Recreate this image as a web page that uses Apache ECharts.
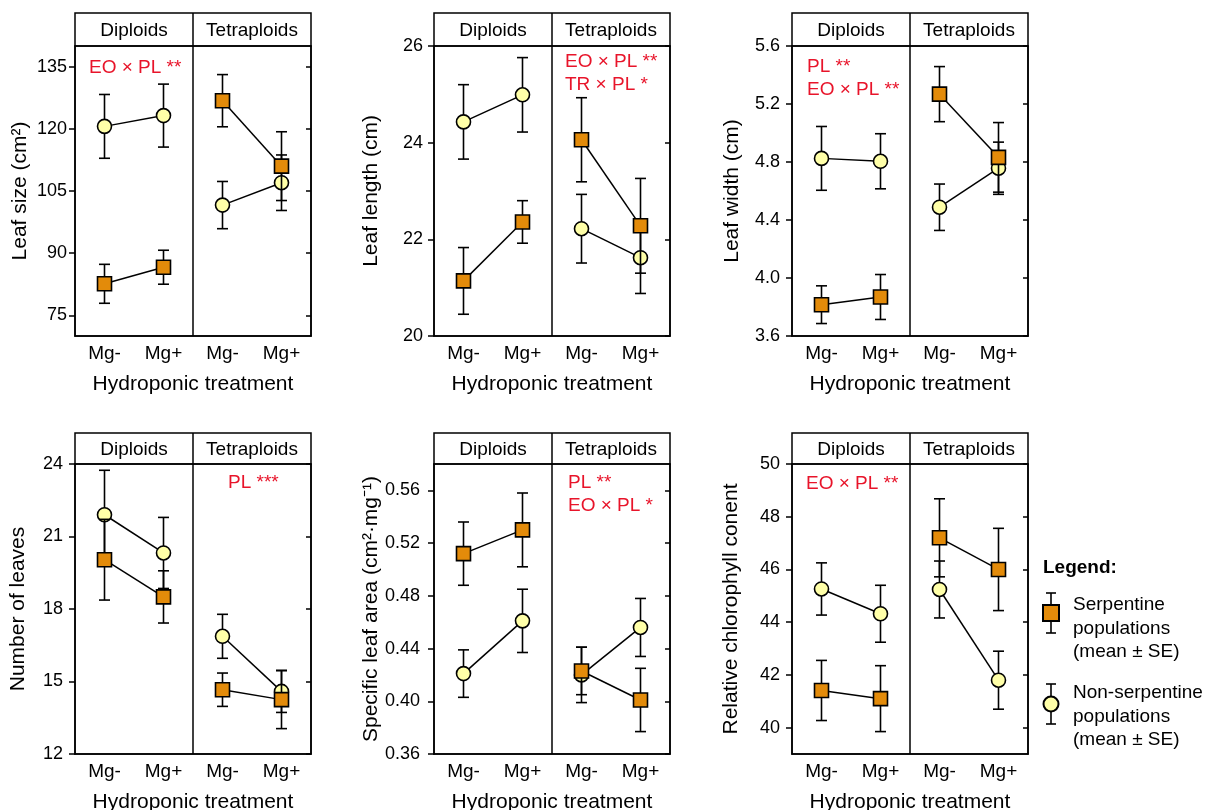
<!DOCTYPE html>
<html>
<head>
<meta charset="utf-8">
<title>Leaf traits by ploidy and Mg treatment</title>
<script src="https://cdn.jsdelivr.net/npm/echarts@6/dist/echarts.min.js"></script>
<style>
  html, body { margin: 0; padding: 0; background: #ffffff; }
  #main { width: 1206px; height: 810px; }
</style>
</head>
<body>
<div id="main"></div>
<script>
// x categories: diploids Mg-/Mg+, then tetraploids Mg-/Mg+
const ploidy = ["Diploids", "Tetraploids"];
const treatments = ["Mg-", "Mg+"];
const categories = ["Diploids Mg-", "Diploids Mg+", "Tetraploids Mg-", "Tetraploids Mg+"];

// Leaf size (cm2)
const leafSizeSerp = [82.6, 86.6, 126.8, 111.0];
const leafSizeSerpSE = [4.7, 4.1, 6.3, 8.3];
const leafSizeNon = [120.6, 123.2, 101.6, 107.0];
const leafSizeNonSE = [7.7, 7.6, 5.7, 6.7];
const leafSizeTicks = [75, 90, 105, 120, 135];

// Leaf length (cm)
const leafLenSerp = [21.14, 22.36, 24.06, 22.28];
const leafLenSerpSE = [0.69, 0.44, 0.87, 0.98];
const leafLenNon = [24.43, 24.99, 22.22, 21.62];
const leafLenNonSE = [0.77, 0.77, 0.71, 0.74];
const leafLenTicks = [20, 22, 24, 26];

// Leaf width (cm)
const leafWidSerp = [3.816, 3.869, 5.268, 4.832];
const leafWidSerpSE = [0.13, 0.155, 0.19, 0.24];
const leafWidNon = [4.825, 4.805, 4.488, 4.757];
const leafWidNonSE = [0.22, 0.19, 0.16, 0.18];
const leafWidTicks = [3.6, 4.0, 4.4, 4.8, 5.2, 5.6];

// Number of leaves
const leavesSerp = [20.04, 18.5, 14.66, 14.25];
const leavesSerpSE = [1.67, 1.08, 0.69, 1.2];
const leavesNon = [21.9, 20.32, 16.87, 14.59];
const leavesNonSE = [1.84, 1.47, 0.91, 0.87];
const leavesTicks = [12, 15, 18, 21, 24];

// Specific leaf area (cm2/mg)
const slaSerp = [0.512, 0.530, 0.423, 0.401];
const slaSerpSE = [0.024, 0.028, 0.018, 0.024];
const slaNon = [0.421, 0.461, 0.420, 0.456];
const slaNonSE = [0.018, 0.024, 0.021, 0.022];
const slaTicks = [0.36, 0.40, 0.44, 0.48, 0.52, 0.56];

// Relative chlorophyll content
const chlSerp = [41.41, 41.10, 47.20, 46.00];
const chlSerpSE = [1.14, 1.25, 1.48, 1.56];
const chlNon = [45.26, 44.32, 45.24, 41.80];
const chlNonSE = [0.99, 1.08, 1.08, 1.10];
const chlTicks = [40, 42, 44, 46, 48, 50];

// panels, left to right, top to bottom
const panels = [
  { title: "Leaf size (cm²)", serp: leafSizeSerp, serpSE: leafSizeSerpSE, non: leafSizeNon, nonSE: leafSizeNonSE,
    min: 70, max: 140, ticks: leafSizeTicks, dec: 0, notes: ["EO × PL **"] },
  { title: "Leaf length (cm)", serp: leafLenSerp, serpSE: leafLenSerpSE, non: leafLenNon, nonSE: leafLenNonSE,
    min: 20, max: 26, ticks: leafLenTicks, dec: 0, notes: ["EO × PL **", "TR × PL *"] },
  { title: "Leaf width (cm)", serp: leafWidSerp, serpSE: leafWidSerpSE, non: leafWidNon, nonSE: leafWidNonSE,
    min: 3.6, max: 5.6, ticks: leafWidTicks, dec: 1, notes: ["PL **", "EO × PL **"] },
  { title: "Number of leaves", serp: leavesSerp, serpSE: leavesSerpSE, non: leavesNon, nonSE: leavesNonSE,
    min: 12, max: 24, ticks: leavesTicks, dec: 0, notes: ["PL ***"] },
  { title: "Specific leaf area (cm²·mg⁻¹)", serp: slaSerp, serpSE: slaSerpSE, non: slaNon, nonSE: slaNonSE,
    min: 0.36, max: 0.58, ticks: slaTicks, dec: 2, notes: ["PL **", "EO × PL *"] },
  { title: "Relative chlorophyll conent", serp: chlSerp, serpSE: chlSerpSE, non: chlNon, nonSE: chlNonSE,
    min: 39, max: 50, ticks: chlTicks, dec: 0, notes: ["EO × PL **"] }
];

// layout (pixels)
const FONT = "'Liberation Sans', Arial, Helvetica, sans-serif";
const colLeft = [75, 434, 792];
const boxW = 236;
const headTop = [13, 433];
const plotTop = [46, 464];
const plotH = 290;
const nameGap = [44, 52, 49, 46, 52, 50];
const labelMargin = [8, 11, 12, 12, 14, 12];
// where the red notes start: [x, y of first line]
const notePos = [[89, 68], [565, 62], [807, 67], [228, 483], [568, 483], [806, 484]];

const SERP_COLOR = "#E38B0A";
const NON_COLOR = "#FFFFA8";
const RED = "#E8142A";

function errorBarItem(params, api) {
  const x = api.value(0);
  const m = api.value(1);
  const se = api.value(2);
  const hi = api.coord([x, m + se]);
  const lo = api.coord([x, m - se]);
  const cap = 5.5;
  const style = { stroke: "#000", lineWidth: 1.6 };
  return {
    type: "group",
    children: [
      { type: "line", shape: { x1: hi[0], y1: hi[1], x2: lo[0], y2: lo[1] }, style: style },
      { type: "line", shape: { x1: hi[0] - cap, y1: hi[1], x2: hi[0] + cap, y2: hi[1] }, style: style },
      { type: "line", shape: { x1: lo[0] - cap, y1: lo[1], x2: lo[0] + cap, y2: lo[1] }, style: style }
    ]
  };
}

const grids = [], xAxes = [], yAxes = [], series = [], graphics = [];

panels.forEach((p, i) => {
  const col = i % 3, row = Math.floor(i / 3);
  const left = colLeft[col];
  const top = plotTop[row];
  grids.push({ left: left, top: top, width: boxW, height: plotH, show: true,
    borderColor: "#000", borderWidth: 1.5, containLabel: false, outerBoundsMode: "none" });

  xAxes.push({
    type: "category", gridIndex: i, data: categories, boundaryGap: true,
    name: "Hydroponic treatment", nameLocation: "middle", nameGap: 38, nameMoveOverlap: false,
    nameTextStyle: { fontFamily: FONT, fontSize: 21, color: "#000" },
    axisLine: { lineStyle: { color: "#000", width: 1.5 } },
    axisTick: { alignWithLabel: true, length: 5, lineStyle: { color: "#000", width: 1.5 } },
    axisLabel: { margin: 8, fontFamily: FONT, fontSize: 19, color: "#000", interval: 0,
      formatter: v => v.split(" ")[1] },
    splitLine: { show: false }
  });

  const fmt = v => Number(v).toFixed(p.dec);
  yAxes.push({
    type: "value", gridIndex: i, min: p.min, max: p.max, position: "left",
    name: p.title, nameLocation: "middle", nameGap: nameGap[i], nameMoveOverlap: false,
    nameTextStyle: { fontFamily: FONT, fontSize: 21, color: "#000" },
    axisLine: { show: true, lineStyle: { color: "#000", width: 1.5 } },
    axisTick: { show: true, length: 6, customValues: p.ticks, lineStyle: { color: "#000", width: 1.5 } },
    axisLabel: { margin: labelMargin[i], fontFamily: FONT, fontSize: 18, color: "#000",
      customValues: p.ticks, formatter: fmt },
    splitLine: { show: false }
  });
  // right side: inward ticks only
  yAxes.push({
    type: "value", gridIndex: i, min: p.min, max: p.max, position: "right",
    axisLine: { show: true, lineStyle: { color: "#000", width: 1.5 } },
    axisTick: { show: true, inside: true, length: 5, customValues: p.ticks, lineStyle: { color: "#000", width: 1.5 } },
    axisLabel: { show: false },
    splitLine: { show: false }
  });
  const yLeft = i * 2;

  const groups = [
    { vals: p.non, se: p.nonSE, color: NON_COLOR, symbol: "circle", z: 2 },
    { vals: p.serp, se: p.serpSE, color: SERP_COLOR, symbol: "rect", z: 4 }
  ];
  groups.forEach(g => {
    series.push({
      type: "custom", xAxisIndex: i, yAxisIndex: yLeft, z: g.z, silent: true,
      renderItem: errorBarItem,
      encode: { x: 0, y: 1 },
      data: g.vals.map((v, k) => [k, v, g.se[k]])
    });
    // one line per ploidy level, not joined across
    [0, 1].forEach(pl => {
      series.push({
        type: "line", xAxisIndex: i, yAxisIndex: yLeft, z: g.z + 1,
        symbol: g.symbol, symbolSize: 14, showSymbol: true, showAllSymbol: true,
        connectNulls: false,
        lineStyle: { color: "#000", width: 1.5 },
        itemStyle: { color: g.color, borderColor: "#000", borderWidth: 1.6 },
        data: g.vals.map((v, k) => (Math.floor(k / 2) === pl ? v : null))
      });
    });
  });

  // header box with ploidy labels and the divider through the panel
  const hTop = headTop[row];
  graphics.push({
    type: "rect", shape: { x: left, y: hTop, width: boxW, height: top - hTop },
    style: { fill: "transparent", stroke: "#000", lineWidth: 1.5 }
  });
  graphics.push({
    type: "line", shape: { x1: left + boxW / 2, y1: hTop, x2: left + boxW / 2, y2: top + plotH },
    style: { stroke: "#000", lineWidth: 1.5 }
  });
  ploidy.forEach((name, k) => {
    graphics.push({
      type: "text", x: left + boxW * (k * 2 + 1) / 4, y: (hTop + top) / 2 + 1,
      style: { text: name, font: "19px " + FONT, fill: "#000", textAlign: "center", textVerticalAlign: "middle" }
    });
  });

  // significance notes
  p.notes.forEach((t, k) => {
    graphics.push({
      type: "text", x: notePos[i][0], y: notePos[i][1] + k * 23,
      style: { text: t, font: "19px " + FONT, fill: RED, textAlign: "left", textVerticalAlign: "middle" }
    });
  });
});

// legend
function legendMark(cx, cy, symbol, color) {
  const st = { stroke: "#000", lineWidth: 1.6 };
  const h = 20, cap = 5;
  const out = [
    { type: "line", shape: { x1: cx, y1: cy - h, x2: cx, y2: cy + h }, style: st },
    { type: "line", shape: { x1: cx - cap, y1: cy - h, x2: cx + cap, y2: cy - h }, style: st },
    { type: "line", shape: { x1: cx - cap, y1: cy + h, x2: cx + cap, y2: cy + h }, style: st }
  ];
  if (symbol === "rect") {
    out.push({ type: "rect", shape: { x: cx - 8, y: cy - 8, width: 16, height: 16 },
      style: { fill: color, stroke: "#000", lineWidth: 2 } });
  } else {
    out.push({ type: "circle", shape: { cx: cx, cy: cy, r: 7.5 },
      style: { fill: color, stroke: "#000", lineWidth: 2 } });
  }
  return out;
}
graphics.push({
  type: "text", x: 1043, y: 568,
  style: { text: "Legend:", font: "bold 19px " + FONT, fill: "#000", textVerticalAlign: "middle" }
});
legendMark(1051, 613, "rect", SERP_COLOR).forEach(e => graphics.push(e));
legendMark(1051, 704, "circle", NON_COLOR).forEach(e => graphics.push(e));
["Serpentine", "populations", "(mean ± SE)"].forEach((t, k) => {
  graphics.push({ type: "text", x: 1073, y: 605 + k * 23.5,
    style: { text: t, font: "19px " + FONT, fill: "#000", textVerticalAlign: "middle" } });
});
["Non-serpentine", "populations", "(mean ± SE)"].forEach((t, k) => {
  graphics.push({ type: "text", x: 1073, y: 693 + k * 23.5,
    style: { text: t, font: "19px " + FONT, fill: "#000", textVerticalAlign: "middle" } });
});

const chart = echarts.init(document.getElementById("main"));
chart.setOption({
  animation: false,
  backgroundColor: "#ffffff",
  grid: grids,
  xAxis: xAxes,
  yAxis: yAxes,
  series: series,
  graphic: { elements: graphics }
});
</script>
</body>
</html>
